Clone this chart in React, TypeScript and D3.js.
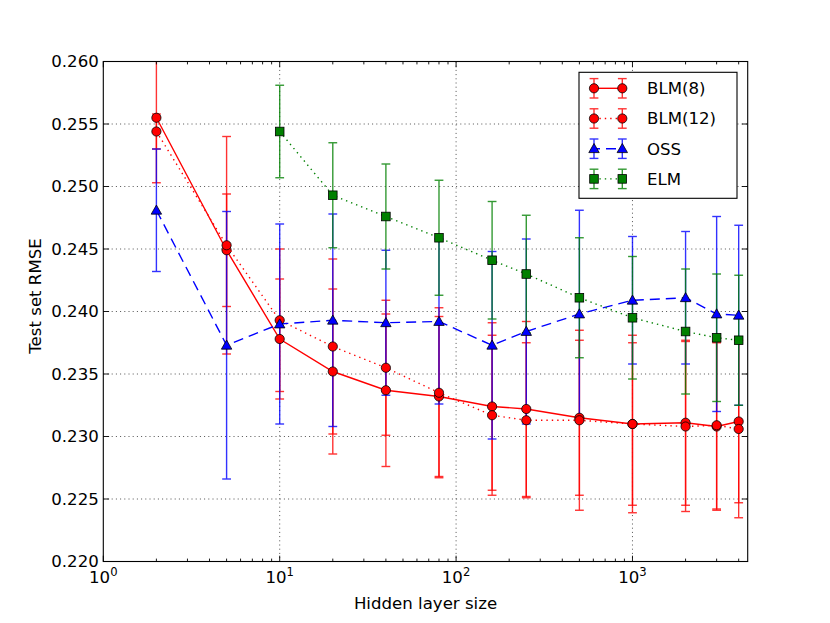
import React from "react";
import * as d3 from "d3";

const xs = [2, 5, 10, 20, 40, 80, 160, 250, 500, 1000, 2000, 3000, 4000];
const blm8 = [0.2555, 0.2449, 0.2378, 0.2352, 0.2337, 0.2332, 0.2324, 0.2322, 0.2315, 0.2310, 0.2311, 0.2308, 0.2312];
const blm8Err = [0.0052, 0.0045, 0.0048, 0.0066, 0.0061, 0.0064, 0.0067, 0.0070, 0.0062, 0.0071, 0.0066, 0.0067, 0.0065];
const blm12 = [0.2544, 0.2453, 0.2393, 0.2372, 0.2355, 0.2335, 0.2317, 0.2313, 0.2313, 0.2310, 0.2308, 0.2309, 0.2306];
const blm12Err = [0.0014, 0.0087, 0.0057, 0.0070, 0.0054, 0.0068, 0.0064, 0.0062, 0.0072, 0.0065, 0.0068, 0.0067, 0.0071];
const oss = [0.2481, 0.2373, 0.2390, 0.2393, 0.2391, 0.2392, 0.2373, 0.2384, 0.2398, 0.2409, 0.2411, 0.2398, 0.2397];
const ossErr = [0.0049, 0.0107, 0.0080, 0.0085, 0.0058, 0.0066, 0.0075, 0.0074, 0.0083, 0.0051, 0.0053, 0.0078, 0.0072];
const elmX = [10, 20, 40, 80, 160, 250, 500, 1000, 2000, 3000, 4000];
const elm = [0.2544, 0.2493, 0.2476, 0.2459, 0.2441, 0.2430, 0.2411, 0.2395, 0.2384, 0.2379, 0.2377];
const elmErr = [0.0037, 0.0042, 0.0042, 0.0046, 0.0047, 0.0047, 0.0048, 0.0049, 0.0050, 0.0051, 0.0052];

const yTicks = [0.22, 0.225, 0.23, 0.235, 0.24, 0.245, 0.25, 0.255, 0.26];
const xTickExps = [0, 1, 2, 3];
const seriesNames = ["BLM(8)", "BLM(12)", "OSS", "ELM"];

const W = 830, H = 623;
const L = 103.3, R = 747.7, T = 61.5, B = 561.5;
const FONT = "'DejaVu Sans', sans-serif";
const FS = 16.6;

type Marker = "circle" | "triangle" | "square";
interface Series { name: string; x: number[]; y: number[]; e: number[]; color: string; dash: string | null; marker: Marker; }

const series: Series[] = [
  { name: seriesNames[0], x: xs, y: blm8, e: blm8Err, color: "#ff0000", dash: null, marker: "circle" },
  { name: seriesNames[1], x: xs, y: blm12, e: blm12Err, color: "#ff0000", dash: "1.4,4", marker: "circle" },
  { name: seriesNames[2], x: xs, y: oss, e: ossErr, color: "#0000ff", dash: "10,6", marker: "triangle" },
  { name: seriesNames[3], x: elmX, y: elm, e: elmErr, color: "#008000", dash: "1.4,4", marker: "square" },
];

function MarkerShape({ kind, cx, cy, color }: { kind: Marker; cx: number; cy: number; color: string }) {
  const sw = 0.8;
  if (kind === "circle") return <circle cx={cx} cy={cy} r={4.6} fill={color} stroke="#000" strokeWidth={sw} />;
  if (kind === "square") return <rect x={cx - 4.3} y={cy - 4.3} width={8.6} height={8.6} fill={color} stroke="#000" strokeWidth={sw} />;
  const s = 5.2;
  return <path d={`M${cx},${cy - s}L${cx + s},${cy + s * 0.75}L${cx - s},${cy + s * 0.75}Z`} fill={color} stroke="#000" strokeWidth={sw} />;
}

export default function App() {
  const x = d3.scaleLog().domain([1, 4500]).range([L, R]);
  const y = d3.scaleLinear().domain([0.22, 0.26]).range([B, T]);
  const line = d3.line<[number, number]>().x(d => x(d[0])).y(d => y(d[1]));

  const minorX: number[] = [];
  for (let e = 0; e < 4; e++) for (let k = 2; k <= 9; k++) { const v = k * Math.pow(10, e); if (v <= 4500) minorX.push(v); }

  const cap = 4.4;
  return (
    <svg width={W} height={H} style={{ position: "absolute", left: 0, top: 0, background: "#fff" }} fontFamily={FONT}>
      <defs>
        <clipPath id="plot"><rect x={L} y={T} width={R - L} height={B - T} /></clipPath>
      </defs>
      <rect x={0} y={0} width={W} height={H} fill="#fff" />
      {/* grid */}
      <g stroke="#000" strokeWidth={0.9} strokeDasharray="1,3.2" opacity={0.75}>
        {yTicks.slice(1, -1).map(t => <line key={"gy" + t} x1={L} x2={R} y1={y(t)} y2={y(t)} />)}
        {xTickExps.slice(1).map(e => <line key={"gx" + e} x1={x(Math.pow(10, e))} x2={x(Math.pow(10, e))} y1={T} y2={B} />)}
      </g>
      <g clipPath="url(#plot)">
        {/* error bars */}
        {series.map(s => (
          <g key={"eb" + s.name} stroke={s.color} strokeWidth={1.4} opacity={0.8}>
            {s.x.map((xv, i) => {
              const px = x(xv), y1 = y(s.y[i] + s.e[i]), y2 = y(s.y[i] - s.e[i]);
              return (
                <g key={i}>
                  <line x1={px} x2={px} y1={y1} y2={y2} />
                  <line x1={px - cap} x2={px + cap} y1={y1} y2={y1} />
                  <line x1={px - cap} x2={px + cap} y1={y2} y2={y2} />
                </g>
              );
            })}
          </g>
        ))}
        {/* lines and markers */}
        {series.map(s => (
          <g key={"ln" + s.name}>
            <path d={line(s.x.map((xv, i) => [xv, s.y[i]] as [number, number])) || ""} fill="none" stroke={s.color}
              strokeWidth={1.4} strokeDasharray={s.dash || undefined} />
            {s.x.map((xv, i) => <MarkerShape key={i} kind={s.marker} cx={x(xv)} cy={y(s.y[i])} color={s.color} />)}
          </g>
        ))}
      </g>
      {/* frame */}
      <rect x={L} y={T} width={R - L} height={B - T} fill="none" stroke="#000" strokeWidth={1.1} />
      {/* ticks */}
      <g stroke="#000" strokeWidth={0.9}>
        {yTicks.map(t => (
          <g key={"ty" + t}>
            <line x1={L} x2={L + 5.8} y1={y(t)} y2={y(t)} />
            <line x1={R} x2={R - 5.8} y1={y(t)} y2={y(t)} />
          </g>
        ))}
        {xTickExps.map(e => {
          const px = x(Math.pow(10, e));
          return (
            <g key={"tx" + e}>
              <line x1={px} x2={px} y1={B} y2={B - 5.8} />
              <line x1={px} x2={px} y1={T} y2={T + 5.8} />
            </g>
          );
        })}
        {minorX.map(v => (
          <g key={"mx" + v}>
            <line x1={x(v)} x2={x(v)} y1={B} y2={B - 2.9} />
            <line x1={x(v)} x2={x(v)} y1={T} y2={T + 2.9} />
          </g>
        ))}
      </g>
      {/* tick labels */}
      <g fontSize={FS} fill="#000">
        {yTicks.map(t => (
          <text key={"ly" + t} x={L - 4.5} y={y(t)} dy="0.36em" textAnchor="end">{d3.format(".3f")(t)}</text>
        ))}
        {xTickExps.map(e => (
          <text key={"lx" + e} x={x(Math.pow(10, e))} y={583} textAnchor="middle">
            10<tspan fontSize={FS * 0.7} dy={-7}>{e}</tspan>
          </text>
        ))}
      </g>
      {/* axis labels */}
      <text x={(L + R) / 2} y={609} textAnchor="middle" fontSize={FS}>Hidden layer size</text>
      <text transform={`translate(41,296) rotate(-90)`} textAnchor="middle" fontSize={FS}>Test set RMSE</text>
      {/* legend */}
      <g>
        <rect x={579} y={72.3} width={158} height={126} fill="#fff" stroke="#000" strokeWidth={1.1} />
        {series.map((s, i) => {
          const ly = 88.3 + i * 30.2;
          const x1 = 594, x2 = 622.3;
          return (
            <g key={"lg" + s.name}>
              {[x1, x2].map(px => (
                <g key={px} stroke={s.color} strokeWidth={1.4} opacity={0.8}>
                  <line x1={px} x2={px} y1={ly - 9.7} y2={ly + 9.7} />
                  <line x1={px - cap} x2={px + cap} y1={ly - 9.7} y2={ly - 9.7} />
                  <line x1={px - cap} x2={px + cap} y1={ly + 9.7} y2={ly + 9.7} />
                </g>
              ))}
              <line x1={x1} x2={x2} y1={ly} y2={ly} stroke={s.color} strokeWidth={1.4} strokeDasharray={s.dash || undefined}
                strokeDashoffset={s.marker === "triangle" ? 4 : 0} />
              <MarkerShape kind={s.marker} cx={x1} cy={ly} color={s.color} />
              <MarkerShape kind={s.marker} cx={x2} cy={ly} color={s.color} />
              <text x={647} y={ly} dy="0.36em" fontSize={FS}>{s.name}</text>
            </g>
          );
        })}
      </g>
    </svg>
  );
}
